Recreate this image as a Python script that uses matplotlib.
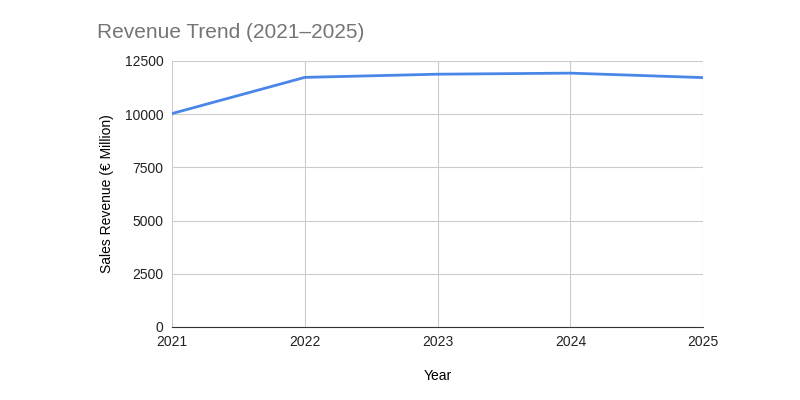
import matplotlib
matplotlib.use('Agg')
import matplotlib.pyplot as plt

years = [2021, 2022, 2023, 2024, 2025]
revenue = [10030, 11730, 11880, 11930, 11720]
yticks = [0, 2500, 5000, 7500, 10000, 12500]

plt.rcParams['font.family'] = ['Liberation Sans', 'DejaVu Sans']

fig = plt.figure(figsize=(8, 4), dpi=100)
ax = fig.add_axes([0.215, 0.1825, 0.664, 0.665])
ax.plot(years, revenue, color='#4a86e8', lw=2, zorder=3)
ax.set_xlim(2021, 2025)
ax.set_ylim(0, 12500)
ax.set_xticks(years)
ax.set_yticks(yticks)
ax.grid(True, color='#cccccc', lw=0.8)
for s in ['top', 'right', 'left']:
    ax.spines[s].set_visible(False)
ax.spines['bottom'].set_color('#333333')
ax.tick_params(length=0, labelsize=10, colors='#222222', pad=6)
ax.set_xlabel('Year', fontsize=10, labelpad=14)
ax.set_ylabel('Sales Revenue (€ Million)', fontsize=10, labelpad=8)
fig.text(0.121, 0.92, 'Revenue Trend (2021\u20132025)', fontsize=15, color='#757575', va='center')

fig.savefig('out.png', dpi=100)
